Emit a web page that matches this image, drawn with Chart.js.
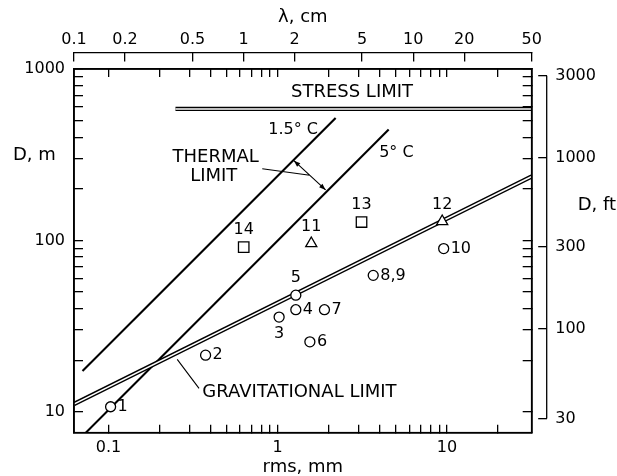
<!DOCTYPE html>
<html lang="en">
<head>
<meta charset="UTF-8">
<title>Depth limits vs surface rms</title>
<script src="https://cdn.jsdelivr.net/npm/chart.js"></script>
<style>
    * { margin: 0; padding: 0; box-sizing: border-box; }
    body { background: #fff; width: 617px; height: 476px; overflow: hidden; }
    canvas { display: block; }
</style>
</head>
<body>
<canvas id="chart" width="617" height="476"></canvas>
<script>
// measured antennas: rms in mm, D in m
const circleRms = [0.103, 0.375, 1.02, 1.28, 1.28, 1.55, 1.89, 3.67, 9.57];
const circleD = [10.7, 21.4, 35.7, 39.4, 47.9, 25.6, 39.4, 62.5, 89.6];
const circleLabels = ['1', '2', '3', '4', '5', '6', '7', '8,9', '10'];
const squareRms = [3.13, 0.63];
const squareD = [128, 91.4];
const squareLabels = ['13', '14'];
const triangleRms = [1.58, 9.38];
const triangleD = [96, 129];
const triangleLabels = ['11', '12'];

// limit lines
const gravRms = [0.0626, 31.7];
const gravD = [11.1, 236];
const stressRms = [0.249, 31.7];
const stressD = [585, 585];
const thermal15Rms = [0.0703, 2.20];
const thermal15D = [17.3, 518];
const thermal5Rms = [0.0735, 4.53];
const thermal5D = [7.55, 443];

// axes
const rmsRange = [0.0626, 31.7];
const dRange = [7.55, 1000];
const lambdaRange = [0.1, 50];
const rmsLabels = [0.1, 1, 10];
const dLabels = [10, 100, 1000];
const lambdaLabels = [0.1, 0.2, 0.5, 1, 2, 5, 10, 20, 50];
const ftLabels = [30, 100, 300, 1000, 3000];
const M_TO_FT = 3.28084;

// label placement: r = right, t = above, b = below
const circlePlace = ['r', 'r', 'b', 'r', 't', 'r', 'r', 'r', 'r'];
const squarePlace = ['t', 't'];
const trianglePlace = ['t', 't'];

const FONT = 'DejaVu Sans';

const notes = [
    { text: 'STRESS LIMIT', at: [2.75, 728], size: 18, align: 'center' },
    { text: '1.5\u00b0 C', at: [1.233, 441], size: 16, align: 'center' },
    { text: '5\u00b0 C', at: [5.03, 325], size: 16, align: 'center' },
    { text: 'THERMAL', at: [0.43, 305], size: 18, align: 'center' },
    { text: 'LIMIT', at: [0.419, 236], size: 18, align: 'center' },
    { text: 'GRAVITATIONAL LIMIT', at: [0.359, 13.0], size: 18, align: 'left' }
];
const thermalLeader = [[0.811, 261.6], [1.547, 240]];
const thermalArrow = [[1.247, 292], [1.92, 197]];
const gravLeader = [[0.255, 20.2], [0.343, 13.7]];

const toPts = (xs, ys) => xs.map((v, i) => ({ x: v, y: ys[i] }));

// 1..9 x 10^n values between two bounds (minor tick marks)
function decadeTicks(from, to) {
    const out = [];
    const e0 = Math.floor(Math.log10(from) + 1e-9);
    const e1 = Math.ceil(Math.log10(to) - 1e-9);
    for (let e = e0; e <= e1; e++) {
        for (let m = 1; m < 10; m++) {
            const v = Number((m * Math.pow(10, e)).toPrecision(3));
            if (v >= from * 0.999 && v <= to * 1.001) out.push(v);
        }
    }
    return out;
}
const rmsTickValues = decadeTicks(rmsLabels[0], 20);
const dTickValues = decadeTicks(dLabels[0], dRange[1]);

// wavelength / feet axis line, titles, point numbers and annotations
const extras = {
    id: 'extras',
    afterDraw(chart) {
        const ctx = chart.ctx;
        const a = chart.chartArea;
        const sx = chart.scales.x, sy = chart.scales.y, sy2 = chart.scales.y2;
        const P = (r, d) => [sx.getPixelForValue(r), sy.getPixelForValue(d)];
        ctx.save();
        ctx.strokeStyle = '#000';
        ctx.fillStyle = '#000';
        ctx.lineWidth = 1.6;
        ctx.strokeRect(a.left, a.top, a.right - a.left, a.bottom - a.top);

        ctx.lineWidth = 1.3;
        ctx.beginPath();
        const fx = sy2.left;
        ctx.moveTo(fx, sy2.getPixelForValue(ftLabels[ftLabels.length - 1]));
        ctx.lineTo(fx, sy2.getPixelForValue(ftLabels[0]));
        ctx.stroke();

        ctx.textBaseline = 'middle';
        ctx.textAlign = 'left';
        ctx.font = '18px "' + FONT + '"';
        ctx.fillText('D, m', 13, sy.getPixelForValue(313));
        ctx.fillText('D, ft', a.right + 46, sy.getPixelForValue(160));

        // point numbers
        ctx.font = '16px "' + FONT + '"';
        [[0, circleLabels, circlePlace], [1, squareLabels, squarePlace], [2, triangleLabels, trianglePlace]]
            .forEach(([idx, labels, place]) => {
                chart.getDatasetMeta(idx).data.forEach((pt, i) => {
                    if (place[i] === 'r') {
                        ctx.textAlign = 'left';
                        ctx.fillText(labels[i], pt.x + 7, pt.y);
                    } else {
                        ctx.textAlign = 'center';
                        ctx.fillText(labels[i], pt.x, pt.y + (place[i] === 't' ? -17 : 17));
                    }
                });
            });

        notes.forEach(n => {
            ctx.font = n.size + 'px "' + FONT + '"';
            ctx.textAlign = n.align;
            const q = P(n.at[0], n.at[1]);
            ctx.fillText(n.text, q[0], q[1]);
        });

        ctx.lineWidth = 1.1;
        ctx.beginPath();
        [thermalLeader, gravLeader, thermalArrow].forEach(seg => {
            const s0 = P(seg[0][0], seg[0][1]);
            const s1 = P(seg[1][0], seg[1][1]);
            ctx.moveTo(s0[0], s0[1]);
            ctx.lineTo(s1[0], s1[1]);
        });
        ctx.stroke();

        // arrow heads on the thermal gap
        const h0 = P(thermalArrow[0][0], thermalArrow[0][1]);
        const h1 = P(thermalArrow[1][0], thermalArrow[1][1]);
        const ang = Math.atan2(h1[1] - h0[1], h1[0] - h0[0]);
        [[h0[0], h0[1], ang], [h1[0], h1[1], ang + Math.PI]].forEach(([hx, hy, th]) => {
            ctx.beginPath();
            ctx.moveTo(hx, hy);
            ctx.lineTo(hx + 7 * Math.cos(th + 0.35), hy + 7 * Math.sin(th + 0.35));
            ctx.lineTo(hx + 7 * Math.cos(th - 0.35), hy + 7 * Math.sin(th - 0.35));
            ctx.closePath();
            ctx.fill();
        });
        ctx.restore();
    }
};

const tickFont = { family: FONT, size: 16 };
// inward tick marks: Chart.js draws them itself with a negative tick length
const inwardGrid = len => ({ display: true, drawOnChartArea: false, drawTicks: true, tickLength: -len, color: '#000', lineWidth: 1.3 });
const frameBorder = { display: true, color: '#000', width: 1.6 };
const markerBase = { showLine: false, fill: false, borderColor: '#000', backgroundColor: '#fff', borderWidth: 1.3, order: 0 };
const lineBase = { showLine: true, fill: false, pointRadius: 0, borderCapStyle: 'butt' };

new Chart(document.getElementById('chart'), {
    type: 'scatter',
    data: {
        datasets: [
            Object.assign({ label: 'circles', data: toPts(circleRms, circleD), pointStyle: 'circle', pointRadius: 5 }, markerBase),
            Object.assign({ label: 'squares', data: toPts(squareRms, squareD), pointStyle: 'rect', pointRadius: 7.4 }, markerBase),
            Object.assign({ label: 'triangles', data: toPts(triangleRms, triangleD), pointStyle: 'triangle', pointRadius: 6.4 }, markerBase),
            Object.assign({ label: 'grav-core', data: toPts(gravRms, gravD), borderColor: '#fff', borderWidth: 1.5, order: 1 }, lineBase),
            Object.assign({ label: 'stress-core', data: toPts(stressRms, stressD), borderColor: '#fff', borderWidth: 1.5, order: 1 }, lineBase),
            Object.assign({ label: 'grav', data: toPts(gravRms, gravD), borderColor: '#000', borderWidth: 4.4, order: 2 }, lineBase),
            Object.assign({ label: 'stress', data: toPts(stressRms, stressD), borderColor: '#000', borderWidth: 4.4, order: 2 }, lineBase),
            Object.assign({ label: '1.5 C', data: toPts(thermal15Rms, thermal15D), borderColor: '#000', borderWidth: 2.1, order: 2 }, lineBase),
            Object.assign({ label: '5 C', data: toPts(thermal5Rms, thermal5D), borderColor: '#000', borderWidth: 2.1, order: 2 }, lineBase)
        ]
    },
    options: {
        responsive: false,
        animation: false,
        devicePixelRatio: 1,
        layout: { padding: 0 },
        plugins: { legend: { display: false }, tooltip: { enabled: false } },
        scales: {
            x: {
                type: 'logarithmic', position: 'bottom', weight: 0,
                min: rmsRange[0], max: rmsRange[1],
                afterBuildTicks: s => { s.ticks = rmsTickValues.map(v => ({ value: v })); },
                afterFit: s => { s.height = 43.3; },
                ticks: { autoSkip: false, maxRotation: 0, padding: 14, color: '#000', font: tickFont,
                         callback: v => rmsLabels.indexOf(v) >= 0 ? String(v) : '' },
                grid: inwardGrid(8),
                border: frameBorder,
                title: { display: true, text: 'rms, mm', color: '#000', font: { family: FONT, size: 18, lineHeight: 1 }, padding: 0 }
            },
            xt: {
                type: 'logarithmic', position: 'top', weight: 0,
                min: rmsRange[0], max: rmsRange[1],
                afterBuildTicks: s => { s.ticks = rmsTickValues.map(v => ({ value: v })); },
                afterFit: s => { s.height = 16; },
                ticks: { display: false, autoSkip: false },
                grid: inwardGrid(8),
                border: frameBorder
            },
            x2: {
                type: 'logarithmic', position: 'top', weight: 1,
                min: lambdaRange[0], max: lambdaRange[1],
                afterBuildTicks: s => { s.ticks = lambdaLabels.map(v => ({ value: v })); },
                afterFit: s => { s.height = 53; },
                ticks: { autoSkip: false, maxRotation: 0, padding: 12.5, color: '#000', font: tickFont, callback: v => String(v) },
                grid: inwardGrid(8.5),
                border: { display: true, color: '#000', width: 1.3 },
                title: { display: true, text: '\u03bb, cm', color: '#000', font: { family: FONT, size: 18, lineHeight: 1 }, padding: { top: 8.5, bottom: 0 } }
            },
            y: {
                type: 'logarithmic', position: 'left', weight: 0,
                min: dRange[0], max: dRange[1],
                afterBuildTicks: s => { s.ticks = dTickValues.map(v => ({ value: v })); },
                afterFit: s => { s.width = 74; },
                ticks: { autoSkip: false, padding: 18, color: '#000', font: tickFont,
                         callback: v => dLabels.indexOf(v) >= 0 ? String(v) : '' },
                grid: inwardGrid(9),
                border: frameBorder
            },
            yr: {
                type: 'logarithmic', position: 'right', weight: 0,
                min: dRange[0], max: dRange[1],
                afterBuildTicks: s => { s.ticks = dTickValues.map(v => ({ value: v })); },
                afterFit: s => { s.width = 15; },
                ticks: { display: false, autoSkip: false },
                grid: inwardGrid(9),
                border: frameBorder
            },
            y2: {
                type: 'logarithmic', position: 'right', weight: 1,
                min: dRange[0] * M_TO_FT, max: dRange[1] * M_TO_FT,
                afterBuildTicks: s => { s.ticks = ftLabels.map(v => ({ value: v })); },
                afterFit: s => { s.width = 70.3; },
                ticks: { autoSkip: false, padding: 17, color: '#000', font: tickFont, callback: v => String(v) },
                grid: inwardGrid(8.5),
                border: { display: false }
            }
        }
    },
    plugins: [extras]
});
</script>
</body>
</html>
